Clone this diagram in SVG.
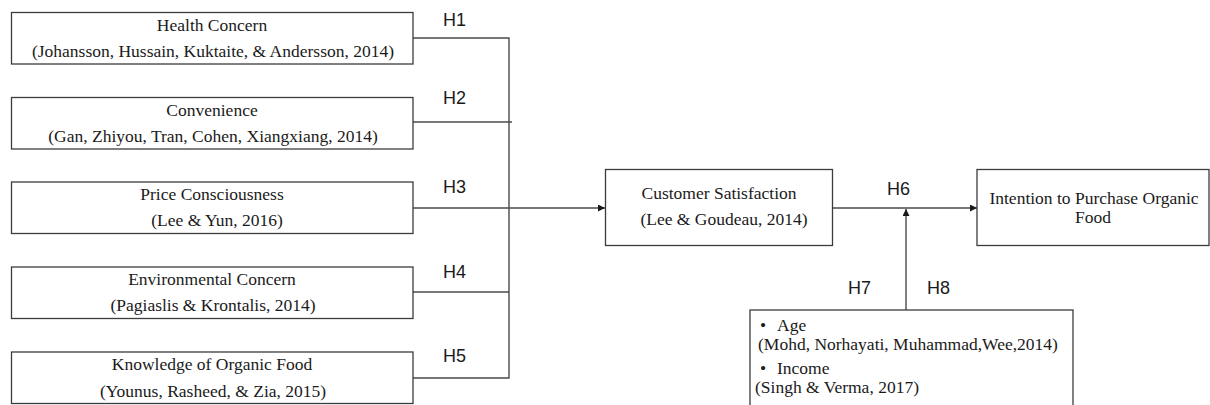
<svg xmlns="http://www.w3.org/2000/svg" width="1210" height="405" viewBox="0 0 1210 405">
<defs>
<style>
.box{fill:#fff;stroke:#3c3c3c;stroke-width:1.3}
.t{font-family:"Liberation Serif","Times New Roman",serif;font-size:17.5px;fill:#1a1a1a}
.c{text-anchor:middle}
.h{font-family:"Liberation Sans",Arial,sans-serif;font-size:18px;fill:#1a1a1a}
.ln{fill:none;stroke:#4a4a4a;stroke-width:1.4}
</style>
<marker id="ah" viewBox="0 0 10 10" refX="10" refY="5" markerWidth="9" markerHeight="7" markerUnits="userSpaceOnUse" orient="auto">
<path d="M0,0 L10,5 L0,10 z" fill="#1a1a1a"/>
</marker>
</defs>
<rect width="1210" height="405" fill="#fff"/>

<g id="connectors">
<polyline class="ln" points="413,38 509,38 509,378 413,378"/>
<line class="ln" x1="413" y1="122" x2="512" y2="122"/>
<line class="ln" x1="413" y1="292" x2="509" y2="292"/>
<line class="ln" x1="413" y1="208" x2="605" y2="208" marker-end="url(#ah)"/>
<line class="ln" x1="832.5" y1="208" x2="977" y2="208" marker-end="url(#ah)"/>
<line class="ln" x1="906" y1="310" x2="906" y2="209" marker-end="url(#ah)"/>
<text class="h" x="443" y="26">H1</text>
<text class="h" x="443" y="104">H2</text>
<text class="h" x="443" y="193">H3</text>
<text class="h" x="443" y="278">H4</text>
<text class="h" x="443" y="362">H5</text>
<text class="h" x="887" y="195">H6</text>
<text class="h" x="848" y="294">H7</text>
<text class="h" x="927" y="294">H8</text>
</g>

<g id="health">
<rect class="box" x="11.5" y="12.5" width="401.5" height="51.5"/>
<text class="t c" x="212" y="30.5">Health  Concern</text>
<text class="t c" x="213" y="57">(Johansson, Hussain,  Kuktaite,  &amp; Andersson, 2014)</text>
</g>
<g id="convenience">
<rect class="box" x="11.5" y="97.5" width="401.5" height="51.5"/>
<text class="t c" x="212" y="115.5">Convenience</text>
<text class="t c" x="213" y="141.5">(Gan,  Zhiyou,  Tran,  Cohen,  Xiangxiang,  2014)</text>
</g>
<g id="price">
<rect class="box" x="11.5" y="182" width="401.5" height="51.5"/>
<text class="t c" x="212" y="200">Price Consciousness</text>
<text class="t c" x="217" y="226">(Lee &amp; Yun, 2016)</text>
</g>
<g id="environmental">
<rect class="box" x="11.5" y="267" width="401.5" height="51.5"/>
<text class="t c" x="212" y="285">Environmental  Concern</text>
<text class="t c" x="213" y="311">(Pagiaslis  &amp; Krontalis,  2014)</text>
</g>
<g id="knowledge">
<rect class="box" x="11.5" y="352" width="401.5" height="51.5"/>
<text class="t c" x="212" y="370">Knowledge  of Organic Food</text>
<text class="t c" x="213" y="396.5">(Younus,  Rasheed,  &amp; Zia,  2015)</text>
</g>
<g id="satisfaction">
<rect class="box" x="605.5" y="169.5" width="227" height="76"/>
<text class="t c" x="719" y="199">Customer Satisfaction</text>
<text class="t c" x="724" y="225">(Lee &amp; Goudeau, 2014)</text>
</g>
<g id="intention">
<rect class="box" x="977" y="169.5" width="232" height="76"/>
<text class="t c" x="1094" y="204">Intention  to Purchase Organic</text>
<text class="t c" x="1093" y="223">Food</text>
</g>
<g id="moderators">
<rect class="box" x="750" y="310" width="323" height="110"/>
<text class="t" x="760" y="331">•</text>
<text class="t" x="777" y="331">Age</text>
<text class="t" x="758" y="350">(Mohd, Norhayati,  Muhammad,Wee,2014)</text>
<text class="t" x="760" y="374">•</text>
<text class="t" x="777" y="374">Income</text>
<text class="t" x="755" y="393">(Singh  &amp; Verma,  2017)</text>
</g>
</svg>
